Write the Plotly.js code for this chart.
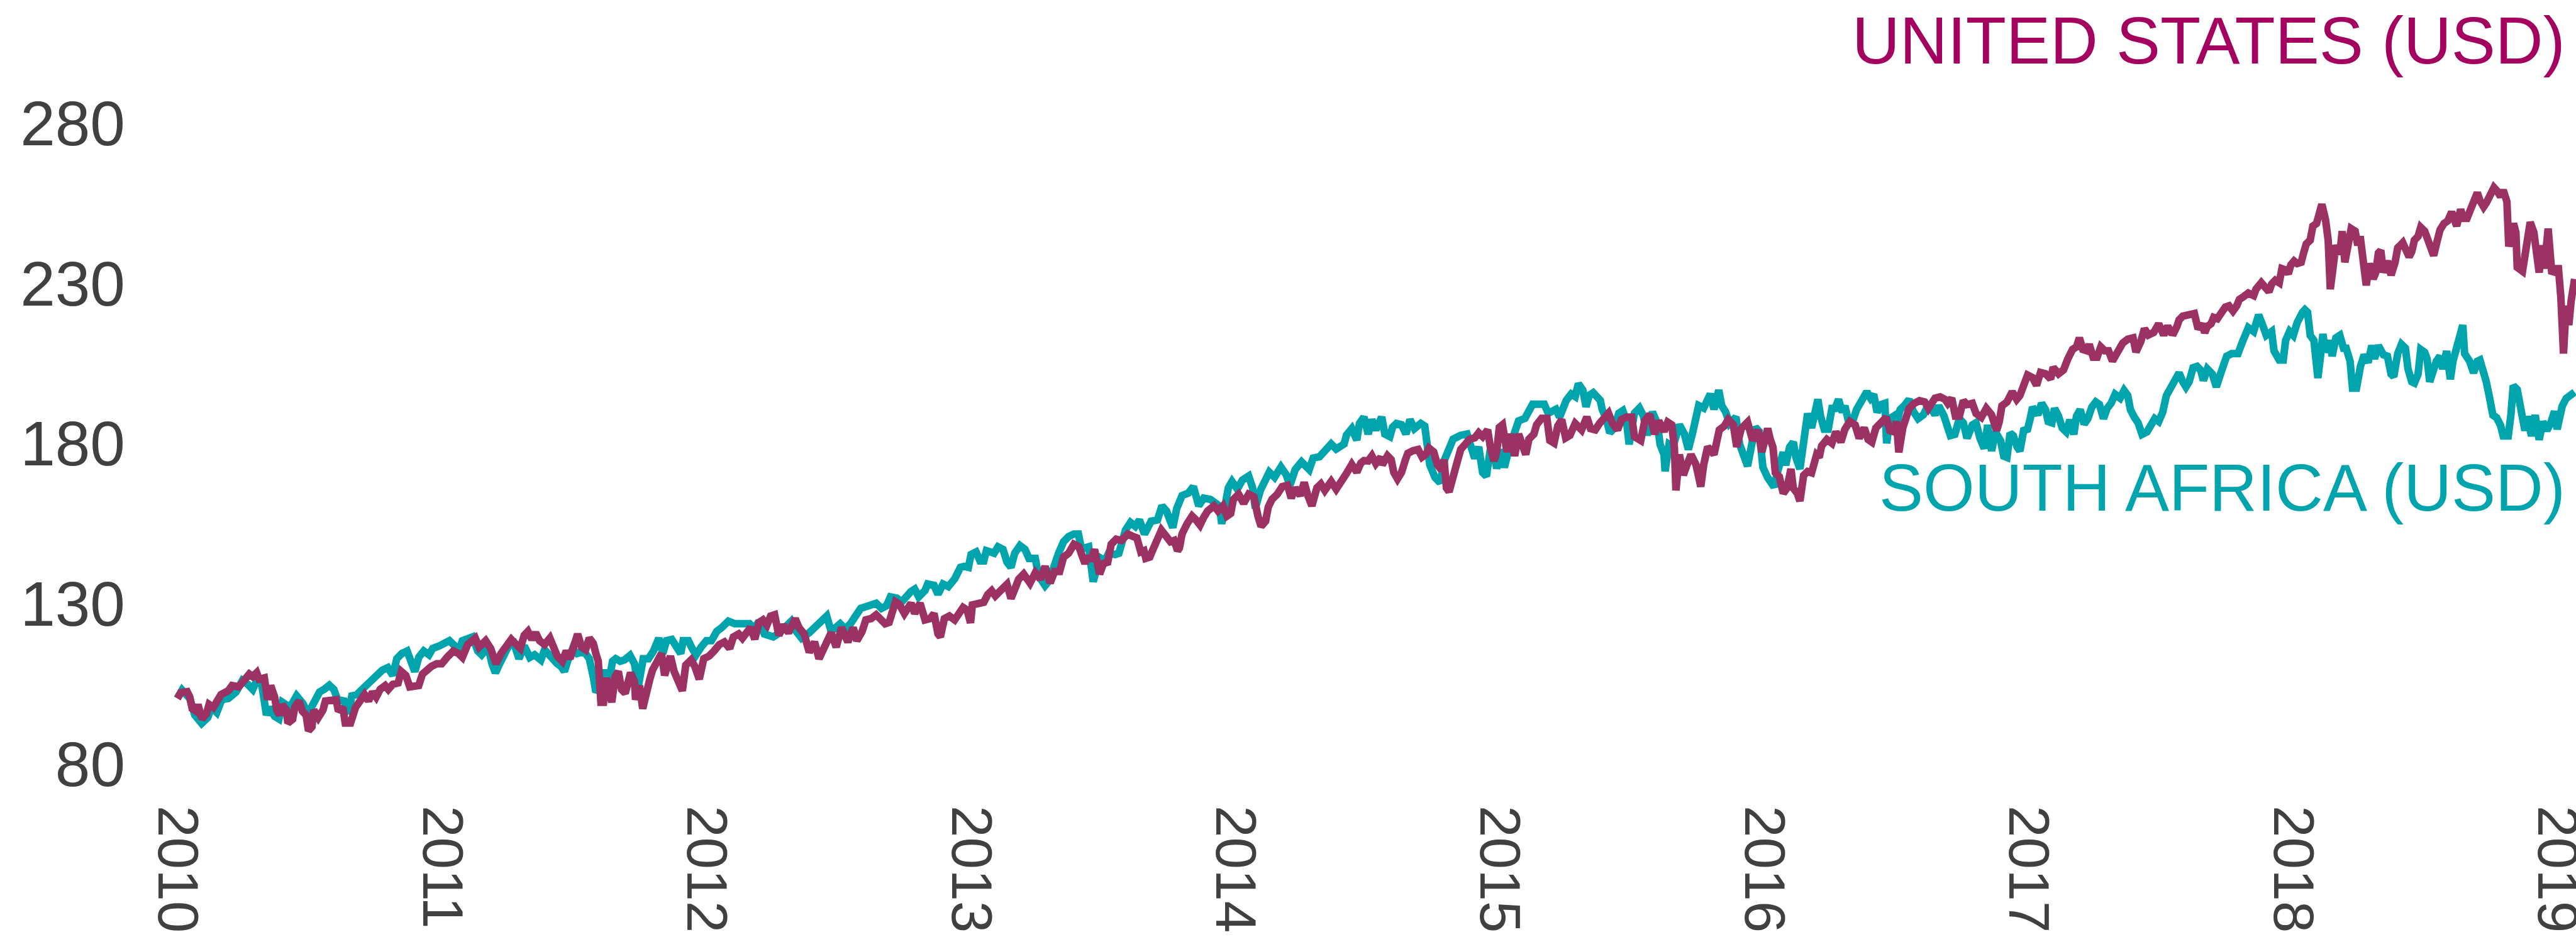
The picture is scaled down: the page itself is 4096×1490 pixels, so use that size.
<!DOCTYPE html>
<html>
<head>
<meta charset="utf-8">
<script src="https://cdn.plot.ly/plotly-3.0.1.min.js"></script>
<style>
  html, body { margin: 0; padding: 0; background: #ffffff; }
  #chart { width: 4096px; height: 1490px; }
</style>
</head>
<body>
<div id="chart"></div>
<script>
// ---- DATA ----
// Time is given in years since 1 Jan 2010; index values rebased to ~100.
const baseYear = 2010;
const tickYears = [2010, 2011, 2012, 2013, 2014, 2015, 2016, 2017, 2018, 2019];
const tickYearLabels = ["2010", "2011", "2012", "2013", "2014", "2015", "2016", "2017", "2018", "2019"];
const yTickValues = [80, 130, 180, 230, 280];

const seriesNames = ["SOUTH AFRICA (USD)", "UNITED STATES (USD)"];

const usYearsSince2010 = [
0.000,0.013,0.037,0.047,0.056,0.071,0.078,0.093,0.110,0.120,0.136,0.154,0.165,0.193,0.207,0.232,0.246,0.261,0.272,0.285,
0.300,0.309,0.329,0.341,0.353,0.368,0.376,0.387,0.397,0.412,0.418,0.436,0.444,0.460,0.473,0.487,0.496,0.509,0.516,0.533,
0.551,0.560,0.582,0.601,0.609,0.626,0.635,0.655,0.674,0.689,0.708,0.723,0.738,0.752,0.767,0.786,0.798,0.815,0.835,0.847,
0.864,0.879,0.898,0.913,0.927,0.947,0.961,0.981,1.000,1.020,1.044,1.063,1.078,1.098,1.127,1.141,1.166,1.185,1.205,1.224,
1.243,1.263,1.282,1.297,1.312,1.326,1.341,1.355,1.370,1.389,1.409,1.424,
1.437,1.456,1.471,1.485,1.500,1.514,1.529,1.544,1.558,1.573,1.583,1.592,1.602,1.612,1.623,1.636,1.643,1.656,1.668,1.680,
1.694,1.714,1.729,1.733,1.748,1.760,1.772,1.787,1.797,1.816,1.831,1.843,1.865,1.879,1.894,1.910,1.923,1.943,1.957,1.974,
1.991,2.011,2.030,2.050,2.069,2.089,2.103,2.123,2.137,2.152,2.168,2.184,2.200,2.215,2.230,2.244,2.259,2.275,2.293,2.312,
2.337,2.351,2.371,2.390,2.410,2.427,2.444,2.458,2.473,2.492,2.512,2.536,2.556,2.570,2.590,2.604,2.624,2.643,2.663,2.677,
2.692,2.702,2.716,2.731,2.750,2.775,2.789,2.809,2.828,2.847,2.862,2.877,2.886,2.901,2.920,2.940,2.962,
2.972,2.987,3.000,3.007,3.031,3.050,3.065,3.080,3.094,3.109,3.123,3.138,3.153,3.167,3.182,3.201,3.225,3.245,3.264,3.282,
3.301,3.318,3.337,3.352,3.371,3.391,3.410,3.422,3.433,3.444,3.454,3.469,3.478,3.488,3.503,3.519,3.532,3.551,3.571,3.595,
3.615,3.629,3.644,3.656,3.663,3.678,3.688,3.702,3.722,3.741,3.756,3.770,3.783,3.790,3.800,3.819,3.838,3.853,3.868,3.882,
3.897,3.921,3.936,3.955,3.970,3.984,3.994,4.014,4.033,4.052,4.072,4.087,4.099,4.116,4.126,4.140,4.160,4.179,4.199,4.213,
4.228,4.247,4.262,4.276,4.291,4.310,4.325,4.340,4.364,4.383,4.403,4.422,4.442,4.461,4.476,4.488,
4.504,4.518,4.533,4.552,4.557,4.577,4.591,4.601,4.615,4.630,4.645,4.654,4.674,4.693,4.708,4.722,4.734,4.752,4.766,4.781,
4.791,4.800,4.810,4.825,4.839,4.854,4.868,4.888,4.907,4.922,4.937,4.956,4.966,4.980,4.990,5.000,5.012,5.029,5.042,5.058,
5.073,5.084,5.100,5.112,5.131,5.141,5.160,5.180,5.191,5.207,5.221,5.236,5.251,5.267,5.287,5.311,5.331,5.345,5.363,5.379,
5.394,5.413,5.428,5.447,5.462,5.481,5.501,5.511,5.535,5.550,5.569,5.588,5.603,5.623,5.637,5.652,5.662,5.668,5.681,5.696,
5.710,5.725,5.744,5.762,5.773,5.788,5.812,5.832,5.851,5.866,5.885,5.898,5.915,5.939,5.958,5.978,5.993,6.015,
6.025,6.035,6.044,6.059,6.074,6.088,6.103,6.112,6.127,6.137,6.151,6.166,6.181,6.190,6.200,6.210,6.219,6.239,6.258,6.273,
6.292,6.307,6.326,6.346,6.361,6.380,6.395,6.409,6.424,6.443,6.463,6.477,6.492,6.502,6.511,6.526,6.541,6.550,6.570,6.589,
6.609,6.623,6.648,6.667,6.686,6.696,6.711,6.725,6.740,6.755,6.769,6.789,6.803,6.823,6.842,6.862,6.881,6.891,6.901,6.920,
6.940,6.957,6.969,6.983,6.998,7.017,7.032,7.047,7.066,7.085,7.095,7.115,7.134,7.149,7.168,7.183,7.194,7.207,7.222,7.231,
7.246,7.261,7.275,7.290,7.304,7.319,7.338,7.358,7.377,7.397,7.408,7.426,7.440,7.455,7.475,7.494,7.513,7.528,7.541,
7.551,7.563,7.571,7.585,7.600,7.614,7.629,7.643,7.658,7.668,7.678,7.692,7.702,7.716,7.731,7.746,7.760,7.775,7.789,7.799,
7.814,7.833,7.853,7.862,7.882,7.897,7.911,7.921,7.935,7.950,7.960,7.974,7.984,7.994,8.006,8.018,8.033,8.042,8.052,8.067,
8.077,8.091,8.101,8.111,8.125,8.135,8.143,8.152,8.164,8.179,8.188,8.198,8.213,8.222,8.237,8.247,8.256,8.261,8.271,8.279,
8.290,8.305,8.315,8.325,8.334,8.344,8.359,8.373,8.388,8.398,8.417,8.432,8.441,8.451,8.461,8.475,8.485,8.500,8.514,8.524,
8.534,8.548,8.558,8.573,8.587,8.602,8.612,8.621,8.636,8.646,8.660,8.675,8.689,8.699,8.709,8.723,8.733,8.748,8.762,8.775,
8.787,8.797,8.811,8.818,8.836,8.845,8.850,8.870,8.884,8.899,8.913,8.923,8.933,8.943,8.952,8.967,8.977,8.981,8.996,9.006,
9.015,9.020,9.025,9.035,9.045,9.054,9.059,9.067
];
const usValues = [
100.5,102.3,102.6,100.9,97.3,96.5,98.6,94.1,95.7,98.6,97.7,100.1,101.7,102.9,104.5,104.1,105.3,106.5,108.1,107.3,
108.5,106.5,106.9,100.1,104.5,100.9,96.9,95.3,98.5,96.9,92.8,94.0,97.7,99.7,96.5,95.3,90.4,91.6,96.9,94.5,
96.9,99.7,100.1,100.1,96.5,97.7,92.8,92.8,97.7,99.3,101.7,99.7,102.5,100.9,103.3,104.5,103.3,104.9,105.3,108.9,
107.7,104.1,104.5,104.5,108.1,109.7,110.5,111.3,111.3,113.3,115.3,114.5,113.3,117.3,119.3,116.5,118.5,116.1,111.3,114.5,
116.5,118.9,117.3,116.1,120.2,121.4,118.9,121.0,118.5,117.3,119.3,116.1,
113.7,112.1,115.3,112.9,117.7,120.6,116.5,115.7,119.3,117.7,114.5,112.1,99.3,99.3,106.9,100.9,99.3,107.3,108.9,103.3,
102.1,108.5,105.7,100.1,104.5,97.3,102.5,106.5,109.3,112.1,114.5,107.7,113.7,108.9,105.3,102.9,110.9,112.5,110.5,106.5,
112.9,113.7,115.3,117.3,118.1,116.1,119.7,120.6,119.3,121.4,122.6,119.0,124.2,125.0,123.4,126.2,126.6,120.2,123.4,121.0,
125.4,122.6,120.6,114.9,118.1,112.9,116.1,117.3,121.0,116.5,122.6,118.1,122.6,118.5,121.4,125.0,125.4,126.6,124.6,123.8,
124.2,127.4,130.6,129.8,127.0,130.2,127.0,130.2,125.0,125.4,127.0,120.6,119.7,125.4,126.2,125.0,128.2,
128.9,128.1,124.1,129.7,130.1,130.5,132.9,134.1,132.5,134.1,134.9,136.1,131.7,134.5,137.7,139.3,136.5,139.7,137.7,141.7,
136.5,140.1,140.1,144.6,145.8,148.6,147.8,145.0,142.6,145.0,143.4,147.0,141.4,139.3,142.6,143.0,148.6,150.2,149.8,151.8,
151.0,150.6,146.2,146.6,144.2,144.6,146.6,149.4,153.0,151.0,149.4,149.8,146.6,147.4,151.8,155.0,157.4,156.2,154.6,157.0,
159.0,160.6,159.0,160.6,157.4,158.2,162.6,164.2,161.4,164.2,163.4,157.4,154.2,155.8,160.2,162.6,164.2,166.6,167.0,163.0,
166.2,163.8,167.9,163.8,160.6,166.2,167.4,165.4,168.2,165.8,167.9,170.7,173.5,171.1,173.9,174.7,
174.6,176.2,173.8,175.8,173.4,176.2,175.0,171.0,169.0,171.0,175.0,177.0,177.8,178.2,175.8,176.6,178.6,177.4,173.4,171.8,
175.0,166.2,165.0,171.0,173.8,178.2,179.4,181.4,181.8,183.4,182.2,184.3,179.0,174.6,177.4,185.1,185.9,177.4,183.0,176.2,
183.0,180.6,176.6,181.4,183.0,185.9,187.9,187.9,181.0,180.2,185.5,187.5,181.8,182.6,186.3,184.3,188.3,184.7,184.3,186.3,
187.9,189.5,186.3,184.3,187.5,188.3,188.3,182.2,181.0,187.1,189.1,183.0,187.1,183.8,186.7,185.9,179.0,165.4,176.6,170.2,
173.4,176.6,173.4,166.6,173.4,179.0,176.6,184.3,185.5,187.5,185.9,179.0,184.7,186.7,181.0,184.3,177.4,184.7,
181.3,178.9,170.9,169.7,164.5,166.1,172.1,166.1,164.5,162.1,170.1,171.3,170.9,173.3,176.5,175.7,179.3,181.3,180.1,183.7,
180.5,184.5,186.9,185.8,181.7,184.9,181.3,180.5,184.9,186.5,188.2,184.1,183.7,186.9,177.3,184.9,187.8,191.0,192.6,193.4,
193.0,191.0,194.2,194.6,193.8,192.6,194.2,188.6,188.6,193.4,192.2,192.6,189.4,188.2,191.0,189.0,184.1,186.9,191.8,193.0,
196.2,193.8,195.0,199.0,201.4,200.6,198.2,202.2,201.8,200.2,203.8,201.8,203.0,206.2,209.4,210.2,213.0,209.4,209.0,211.0,
207.0,207.0,210.2,209.0,209.0,205.8,208.6,211.4,212.6,213.0,208.6,211.8,215.9,213.9,214.7,217.4,213.9,216.7,214.7,
214.6,216.6,218.6,219.8,220.2,220.2,220.6,215.8,217.4,214.6,216.6,217.4,219.4,219.0,221.4,222.6,223.0,221.4,223.0,225.0,
225.8,227.0,226.2,228.2,230.2,229.0,227.4,229.8,231.0,230.2,234.6,234.2,233.0,235.8,237.0,236.2,236.6,239.5,242.3,243.5,
247.9,248.7,251.9,254.7,249.9,243.5,228.2,234.6,241.9,239.1,246.3,236.6,241.9,247.1,246.3,241.9,244.7,240.7,234.6,229.4,
236.2,231.4,233.4,239.5,240.3,233.4,237.0,232.6,236.6,241.1,242.7,239.5,238.3,239.9,243.5,244.7,247.5,246.3,243.1,240.3,
238.7,243.5,246.7,248.7,249.5,252.3,249.5,247.9,253.1,250.3,250.3,253.5,256.3,258.3,255.9,253.9,255.1,257.1,259.9,258.7,
257.1,259.1,255.5,241.5,248.7,245.9,235.0,233.8,242.3,249.1,245.9,239.5,233.4,241.9,234.6,247.1,238.7,233.0,234.6,234.6,
225.8,220.2,208.1,223.0,217.0,224.6,229.0,231.4
];

const saYearsSince2010 = [
0.000,0.018,0.047,0.066,0.092,0.115,0.129,0.149,0.168,0.193,0.222,0.246,0.266,0.285,0.305,0.319,0.337,0.348,0.368,0.384,
0.397,0.426,0.451,0.475,0.494,0.514,0.538,0.555,0.575,0.592,0.606,0.631,0.648,0.660,0.679,0.699,0.728,0.747,0.775,0.796,
0.815,0.830,0.849,0.869,0.883,0.898,0.913,0.932,0.952,0.966,0.991,1.005,1.029,1.049,1.063,1.078,1.098,1.117,1.136,1.151,
1.171,1.180,1.190,1.203,1.219,1.234,1.253,1.273,1.292,1.312,1.333,1.351,1.375,1.389,1.419,
1.437,1.451,1.464,1.476,1.495,1.512,1.529,1.544,1.558,1.573,1.583,1.597,1.617,1.631,1.646,1.658,1.675,1.691,1.712,1.729,
1.743,1.762,1.782,1.801,1.821,1.836,1.850,1.870,1.889,1.904,1.913,1.933,1.947,1.962,1.981,2.001,2.020,2.040,2.059,2.084,
2.108,2.137,2.164,2.181,2.200,2.220,2.239,2.254,2.278,2.303,2.322,2.341,2.361,2.390,2.410,2.429,2.456,2.473,2.487,2.507,
2.526,2.546,2.565,2.585,2.614,2.643,2.663,2.682,2.697,2.721,2.740,2.755,2.774,2.789,2.804,2.828,2.838,2.862,2.877,2.896,
2.916,2.940,2.962,
2.977,2.992,3.002,3.021,3.036,3.050,3.060,3.089,3.104,3.123,3.138,3.153,3.167,3.187,3.206,3.221,3.245,3.255,3.269,3.282,
3.298,3.313,3.333,3.352,3.371,3.391,3.408,3.418,3.430,3.447,3.464,3.478,3.493,3.508,3.522,3.547,3.561,3.586,3.605,3.623,
3.639,3.658,3.683,3.707,3.724,3.741,3.765,3.780,3.800,3.824,3.843,3.863,3.882,3.907,3.926,3.941,3.950,3.965,3.975,3.989,
4.009,4.028,4.052,4.067,4.077,4.096,4.111,4.130,4.150,4.174,4.194,4.208,4.228,4.252,4.281,4.296,4.320,4.345,4.364,4.383,
4.413,4.422,4.442,4.461,4.471,4.488,
4.504,4.518,4.533,4.555,4.567,4.586,4.596,4.611,4.630,4.647,4.662,4.679,4.703,4.718,4.727,4.737,4.757,4.776,4.793,4.810,
4.825,4.854,4.878,4.893,4.907,4.922,4.937,4.951,4.966,4.980,4.990,5.005,5.019,5.039,5.058,5.073,5.097,5.112,5.126,5.151,
5.170,5.185,5.199,5.214,5.228,5.253,5.272,5.287,5.299,5.316,5.328,5.340,5.355,5.370,5.382,5.389,5.404,5.418,5.433,5.452,
5.467,5.481,5.491,5.511,5.530,5.545,5.559,5.579,5.598,5.608,5.623,5.627,5.642,5.657,5.671,5.681,5.700,5.715,5.730,5.744,
5.754,5.773,5.798,5.812,5.830,5.841,5.856,5.871,5.895,5.909,5.924,5.939,5.953,5.968,5.983,5.997,6.015,
6.039,6.054,6.074,6.083,6.098,6.112,6.122,6.137,6.147,6.166,6.181,6.192,6.205,6.215,6.229,6.244,6.258,6.270,6.283,6.297,
6.307,6.322,6.336,6.351,6.365,6.377,6.390,6.404,6.416,6.429,6.443,6.458,6.465,6.477,6.492,6.502,6.516,6.531,6.550,6.565,
6.584,6.604,6.623,6.648,6.662,6.682,6.691,6.706,6.723,6.740,6.755,6.769,6.789,6.803,6.818,6.834,6.847,6.862,6.876,6.896,
6.908,6.920,6.932,6.944,6.959,6.969,6.983,6.998,7.008,7.017,7.037,7.051,7.066,7.076,7.090,7.100,7.115,7.129,7.144,7.158,
7.173,7.183,7.197,7.212,7.226,7.241,7.256,7.270,7.285,7.299,7.314,7.329,7.348,7.363,7.377,7.387,7.402,7.416,7.431,7.450,
7.465,7.479,7.494,7.509,7.523,7.541,
7.556,7.571,7.585,7.597,7.609,7.624,7.639,7.653,7.663,7.678,7.697,7.712,7.726,7.736,7.751,7.770,7.794,7.809,7.819,7.833,
7.853,7.872,7.887,7.901,7.921,7.930,7.950,7.965,7.974,7.989,8.003,8.018,8.038,8.047,8.057,8.067,8.081,8.096,8.106,8.115,
8.125,8.140,8.150,8.164,8.179,8.193,8.203,8.218,8.227,8.242,8.257,8.271,8.286,8.300,8.310,8.325,8.344,8.359,8.373,8.383,
8.398,8.412,8.427,8.437,8.451,8.461,8.475,8.485,8.500,8.509,8.519,8.529,8.544,8.558,8.568,8.583,8.597,8.607,8.621,8.631,
8.644,8.651,8.670,8.685,8.699,8.709,8.723,8.733,8.743,8.758,8.772,8.787,8.797,8.816,8.826,8.835,8.850,8.860,8.869,8.879,
8.889,8.904,8.918,8.933,8.947,8.962,8.977,8.991,9.001,9.011,9.020,9.035,9.050,9.067
];
const saValues = [
100.5,103.1,100.5,95.3,92.7,94.5,97.7,96.1,100.1,100.5,102.5,106.1,104.9,103.3,106.9,104.9,95.3,97.7,94.9,94.1,
99.3,97.7,101.3,98.9,95.7,99.3,102.5,103.3,104.6,103.3,100.1,99.7,95.7,101.3,101.7,103.3,105.7,107.3,109.3,110.1,
107.7,112.9,114.5,115.3,111.3,108.9,113.3,115.3,114.1,116.1,116.9,117.3,118.5,116.9,114.9,118.5,119.3,119.7,115.3,114.1,
116.1,114.9,111.3,108.5,111.3,113.3,116.9,117.7,112.9,116.9,113.3,114.1,112.5,115.7,112.5,
111.3,110.5,108.9,112.1,116.1,114.5,114.9,114.5,112.9,107.3,102.5,103.7,109.3,105.3,112.1,112.9,112.1,112.5,113.9,111.3,
104.1,112.9,112.9,115.3,119.3,114.5,118.5,118.9,116.9,114.5,118.5,118.5,116.1,114.1,116.5,118.5,118.5,121.4,122.6,124.6,
123.8,123.8,123.8,122.2,124.6,120.6,120.2,119.7,121.0,123.4,124.6,121.4,119.3,121.0,122.6,123.4,126.2,121.4,122.6,123.8,
122.2,123.8,126.2,128.6,129.4,130.2,128.6,129.4,132.2,131.8,130.6,132.2,133.8,134.6,132.2,134.2,136.2,135.8,133.0,136.2,
135.4,137.8,141.4,
141.7,141.4,145.4,146.2,143.4,143.4,146.6,145.8,147.8,147.0,143.0,141.4,145.8,148.2,147.0,144.2,144.2,139.7,137.3,135.7,
137.3,141.7,145.8,149.4,151.0,151.8,151.8,147.8,147.4,147.8,136.9,141.4,144.2,143.4,145.8,145.4,145.8,153.0,155.4,154.2,
156.2,151.8,155.8,156.2,160.6,159.0,153.8,159.8,163.8,164.6,166.6,160.6,163.0,162.6,161.4,160.6,155.0,160.2,166.2,168.2,
165.8,168.6,169.9,166.2,159.8,165.4,167.9,171.1,169.5,172.7,170.3,167.0,171.9,174.3,171.9,175.5,175.9,178.7,179.9,178.3,
179.9,182.7,184.7,181.1,186.3,188.3,
183.0,187.5,184.3,188.3,183.0,182.2,185.1,186.3,185.9,183.0,187.5,184.7,186.3,185.5,179.0,173.4,169.4,167.8,175.0,179.0,
181.4,182.6,183.0,179.0,175.4,179.0,171.0,169.8,178.2,178.2,172.2,178.2,172.6,179.0,184.3,187.1,187.9,190.7,192.3,192.3,
192.3,189.5,189.9,190.7,188.3,193.5,195.5,194.7,198.7,196.7,191.5,195.1,195.9,194.3,193.5,190.7,187.9,183.4,184.7,189.5,
190.3,187.1,179.8,189.5,191.1,188.7,182.6,189.9,186.3,179.8,176.6,171.4,179.8,179.0,184.7,185.9,183.0,178.2,183.0,187.5,
191.9,191.1,195.5,190.7,196.7,191.9,189.9,186.3,188.3,179.8,176.2,173.0,179.0,185.1,183.8,172.6,169.4,
166.5,171.7,177.3,173.3,178.9,180.5,175.7,172.1,177.3,189.4,184.9,188.6,193.8,188.6,184.5,184.5,191.0,191.0,193.8,189.8,
191.8,186.5,186.9,190.6,192.6,194.6,196.2,194.2,195.4,189.8,192.2,192.6,180.1,187.8,188.6,185.8,190.6,191.8,193.8,190.2,
187.8,189.0,192.2,189.0,191.8,188.6,185.8,182.5,182.9,187.8,186.5,181.7,185.8,186.5,181.7,178.5,185.8,177.7,183.7,180.9,
176.1,175.7,183.3,182.5,178.9,177.7,184.1,184.5,187.8,191.4,189.0,192.6,190.6,186.9,186.5,191.0,188.6,184.9,183.7,187.4,
182.9,188.6,190.6,186.1,187.8,191.4,193.0,192.2,187.8,191.0,192.6,195.4,194.2,196.6,195.0,190.6,188.2,186.5,182.9,183.7,
185.8,187.8,186.9,189.8,195.0,197.4,
199.3,202.1,199.3,197.7,199.3,203.7,204.1,202.9,199.7,203.3,201.7,197.7,201.3,204.5,207.3,208.1,208.1,211.4,213.4,216.2,
215.0,220.2,217.0,213.8,215.0,209.0,206.1,206.1,212.2,215.0,213.8,217.8,221.0,221.8,221.0,213.8,212.2,200.5,207.3,214.2,
208.5,212.2,207.3,213.0,213.8,209.8,209.8,205.7,197.3,197.3,204.1,207.7,205.3,210.6,206.5,210.6,207.7,207.3,201.7,200.9,
208.1,211.0,209.8,203.3,199.3,198.9,201.7,209.4,208.5,206.5,199.3,202.9,205.7,207.3,203.3,208.9,200.1,205.7,209.8,214.6,
217.0,208.1,205.7,202.1,205.7,206.1,202.9,199.3,195.3,188.9,188.1,185.7,182.4,182.4,188.9,198.1,196.9,191.3,187.3,184.1,
188.5,182.4,188.9,181.2,186.9,184.1,186.5,190.1,184.5,188.9,191.7,194.1,195.3,196.1
];

// ---- STYLE ----
const FONT = "Liberation Sans, Arial, Helvetica, sans-serif";
const US_LINE = "#9B3263";
const US_TEXT = "#A3005F";
const SA_COLOR = "#00A4AD";
const TICK_COLOR = "#404040";

const toYears = arr => arr.map(t => baseYear + t);

const traces = [
  {
    type: "scatter", mode: "lines", name: seriesNames[0],
    x: toYears(saYearsSince2010), y: saValues,
    line: { color: SA_COLOR, width: 12, shape: "linear" },
    hoverinfo: "skip"
  },
  {
    type: "scatter", mode: "lines", name: seriesNames[1],
    x: toYears(usYearsSince2010), y: usValues,
    line: { color: US_LINE, width: 12, shape: "linear" },
    hoverinfo: "skip"
  }
];

const layout = {
  width: 4096, height: 1490,
  margin: { l: 230, r: 0, t: 94, b: 224, pad: 0 },
  paper_bgcolor: "#ffffff", plot_bgcolor: "#ffffff",
  showlegend: false,
  font: { family: FONT, color: TICK_COLOR },
  xaxis: {
    range: [2009.8763, 2019.0723],
    tickmode: "array", tickvals: tickYears, ticktext: tickYearLabels,
    tickangle: 90,
    tickfont: { family: FONT, size: 91, color: TICK_COLOR },
    showgrid: false, zeroline: false, showline: false, ticks: "",
    ticklabeloverflow: "allow",
    ticklabelstandoff: 14,
    fixedrange: true
  },
  yaxis: {
    range: [70, 300],
    tickmode: "array", tickvals: yTickValues,
    tickfont: { family: FONT, size: 100, color: TICK_COLOR },
    showgrid: false, zeroline: false, showline: false, ticks: "",
    ticklabelstandoff: 30,
    fixedrange: true
  },
  annotations: [
    {
      text: seriesNames[1], xref: "paper", yref: "paper",
      x: 0.9962, y: 1.025, xanchor: "right", yanchor: "middle",
      showarrow: false,
      font: { family: FONT, size: 105, color: US_TEXT }
    },
    {
      text: seriesNames[0], xref: "paper", yref: "paper",
      x: 0.9962, y: 0.4186, xanchor: "right", yanchor: "middle",
      showarrow: false,
      font: { family: FONT, size: 105, color: SA_COLOR }
    }
  ]
};

Plotly.newPlot("chart", traces, layout, { displayModeBar: false, staticPlot: true });
</script>
</body>
</html>
